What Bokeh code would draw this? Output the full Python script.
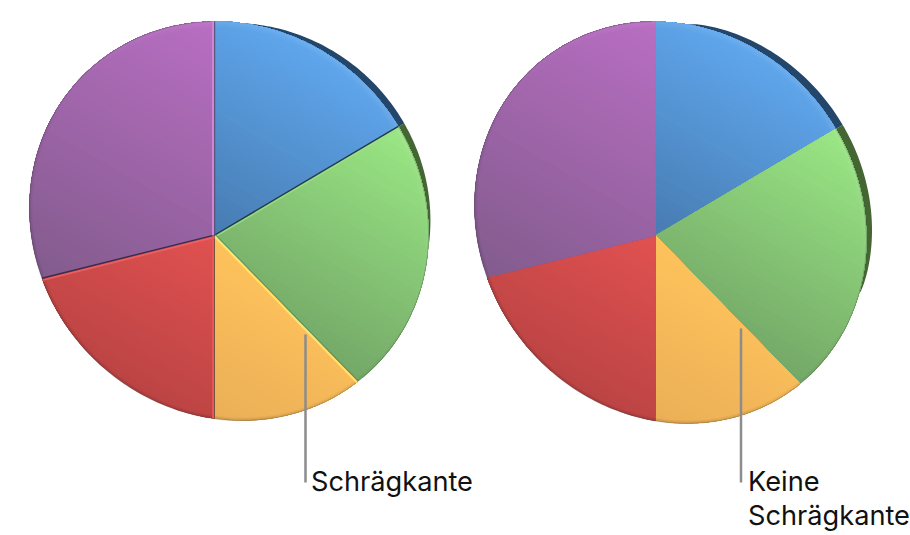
import math
from bokeh.plotting import figure
from bokeh.models import Range1d
from bokeh.core.properties import value
from bokeh.embed import file_html
from bokeh.resources import INLINE

# chart data (percent of pie), clockwise from 12 o'clock
slice_names = ["Blau", "Grün", "Orange", "Rot", "Violett"]
slice_values = [16.5, 21.2, 12.3, 21.1, 28.9]
label_left = ["Schrägkante"]
label_right = ["Keine", "Schrägkante"]

# styles: light / dark end of each slice gradient, and side wall colour
light = ["#5fa6ec", "#9ae684", "#fec25c", "#e15151", "#b86ec2"]
dark = ["#487cb2", "#74a868", "#ebaf57", "#bc4444", "#835c8e"]
wall = ["#24466a", "#446632"]

W, H = 910, 535
p = figure(width=W, height=H, output_backend="svg", toolbar_location=None,
           x_range=Range1d(0, W), y_range=Range1d(H, 0),
           min_border=0, outline_line_color=None, background_fill_color="white",
           border_fill_color="white")
p.axis.visible = False
p.grid.visible = False


def hexrgb(c):
    return tuple(int(c[i:i + 2], 16) for i in (1, 3, 5))


def mix(c0, c1, t):
    a, b = hexrgb(c0), hexrgb(c1)
    return "#%02x%02x%02x" % tuple(round(a[i] + (b[i] - a[i]) * t) for i in range(3))


def ray_hit(g, deg):
    """Point where the ray from the apex at a clockwise angle meets the tilted disc."""
    ph = math.radians(g["tilt"])
    U = (math.cos(ph), math.sin(ph))
    V = (math.sin(ph), -math.cos(ph))
    th = math.radians(deg)
    d = (math.sin(th), -math.cos(th))
    rx, ry = g["apex"][0] - g["c"][0], g["apex"][1] - g["c"][1]
    pu, pv = rx * U[0] + ry * U[1], rx * V[0] + ry * V[1]
    du, dv = d[0] * U[0] + d[1] * U[1], d[0] * V[0] + d[1] * V[1]
    A = (du / g["a"]) ** 2 + (dv / g["b"]) ** 2
    B = 2 * (pu * du / g["a"] ** 2 + pv * dv / g["b"] ** 2)
    C = (pu / g["a"]) ** 2 + (pv / g["b"]) ** 2 - 1
    s = (-B + math.sqrt(B * B - 4 * A * C)) / (2 * A)
    return g["apex"][0] + d[0] * s, g["apex"][1] + d[1] * s


def clip(poly, L, t):
    out = []
    for i in range(len(poly)):
        q0, q1 = poly[i], poly[(i + 1) % len(poly)]
        s0 = q0[0] * L[0] + q0[1] * L[1] - t
        s1 = q1[0] * L[0] + q1[1] * L[1] - t
        if s0 >= 0:
            out.append(q0)
        if s0 * s1 < 0:
            k = s0 / (s0 - s1)
            out.append((q0[0] + (q1[0] - q0[0]) * k, q0[1] + (q1[1] - q0[1]) * k))
    return out


def draw_pie(g):
    cum = [0.0]
    for v in slice_values:
        cum.append(cum[-1] + v * 3.6)
    apex = g["apex"]
    cx, cy = g["c"]

    # side wall crescent
    w0, w1 = g["wall_range"]
    for idx, (s0, s1) in enumerate([(w0, cum[1]), (cum[1], w1)]):
        inner, outer = [], []
        n = 50
        for i in range(n + 1):
            deg = s0 + (s1 - s0) * i / n
            q = ray_hit(g, deg)
            f = (deg - w0) / (w1 - w0)
            w = g["wall_w"] * math.sin(math.pi * f) ** g["wall_exp"]
            rr = math.hypot(q[0] - cx, q[1] - cy)
            inner.append((q[0] - (q[0] - cx) / rr, q[1] - (q[1] - cy) / rr))
            outer.append((q[0] + (q[0] - cx) / rr * w, q[1] + (q[1] - cy) / rr * w))
        poly = inner + outer[::-1]
        p.patch([a for a, _ in poly], [b for _, b in poly], fill_color=wall[idx], line_color=None)

    # gradient bodies
    L = (0.5, -0.87)
    for i in range(len(slice_values)):
        arc = [ray_hit(g, cum[i] + (cum[i + 1] - cum[i]) * k / 60) for k in range(61)]
        poly = [apex] + arc
        pr = [a * L[0] + b * L[1] for a, b in poly]
        lo, hi = min(pr), max(pr)
        N = 40
        xs, ys, cols = [], [], []
        for k in range(N):
            part = poly if k == 0 else clip(poly, L, lo + (hi - lo) * k / N)
            if len(part) < 3:
                continue
            xs.append([a for a, _ in part])
            ys.append([b for _, b in part])
            cols.append(mix(dark[i], light[i], k / (N - 1)))
        p.patches(xs, ys, fill_color=cols, line_color=None)

    # bevelled outer rim, as thin arc pieces
    xs, ys, cols, alphas = [], [], [], []
    light_dir = (0.55, -0.83)
    for i in range(len(slice_values)):
        steps = max(6, int((cum[i + 1] - cum[i]) / 3))
        for k in range(steps):
            a0 = cum[i] + (cum[i + 1] - cum[i]) * k / steps
            a1 = cum[i] + (cum[i + 1] - cum[i]) * (k + 1) / steps
            q0, q1 = ray_hit(g, a0), ray_hit(g, a1)
            mx, my = (q0[0] + q1[0]) / 2 - cx, (q0[1] + q1[1]) / 2 - cy
            r = math.hypot(mx, my)
            f = (mx * light_dir[0] + my * light_dir[1]) / r
            depth = 7 if f > 0 else 3
            for d in range(depth):
                s = 1 - (d + 0.5) / r
                xs.append([cx + (q0[0] - cx) * s, cx + (q1[0] - cx) * s])
                ys.append([cy + (q0[1] - cy) * s, cy + (q1[1] - cy) * s])
                if f > 0:
                    cols.append("#ffffff")
                    alphas.append(0.09 * f * (1 - d / depth))
                else:
                    cols.append("#000000")
                    alphas.append(0.10 * (-f + 0.25) * (1 - d / depth))
    p.multi_line(xs, ys, line_color=cols, line_alpha=alphas, line_width=1.2)

    # thin soft outer edge on the lower left half
    arc = [ray_hit(g, d) for d in range(int(cum[1]), 361, 3)]
    p.line([a for a, _ in arc], [b for _, b in arc], line_color="#3a3a3a", line_alpha=0.28, line_width=1)

    # bevelled radial edges (left pie only); positive offset = clockwise side
    if g["bevel"]:
        edges = [
            (cum[1], [(1.4, "#9fe088", 1.4, 0.8), (-0.3, "#22384e", 1.4, 1)]),
            (cum[2], [(-1.4, "#5b7f4c", 1, 0.7), (0.6, "#ffe36c", 2, 1)]),
            (cum[3], [(1.4, "#ee5757", 1.8, 1), (0, "#77523f", 1, 1)]),
            (cum[4], [(-1.6, "#f06060", 1.8, 0.9), (0.4, "#3a2c4c", 1.4, 1)]),
            (cum[5], [(-1.5, "#cf86d6", 2, 1), (0.2, "#3f5068", 1, 0.9)]),
        ]
        for deg, strokes in edges:
            th = math.radians(deg)
            e = ray_hit(g, deg)
            nx, ny = math.cos(th), math.sin(th)
            for off, col, lw, al in strokes:
                p.line([apex[0] + nx * off, e[0] + nx * off], [apex[1] + ny * off, e[1] + ny * off],
                       line_color=col, line_width=lw, line_alpha=al)


left = dict(apex=(214, 235), c=(228.5, 220.5), a=206, b=193, tilt=45, bevel=True,
            wall_range=(8, 94), wall_w=7, wall_exp=0.9)
right = dict(apex=(655, 235), c=(670, 222), a=207, b=189.7, tilt=53.4, bevel=False,
             wall_range=(9, 106), wall_w=8, wall_exp=0.55)
draw_pie(left)
draw_pie(right)

# leaders and labels
p.line([305, 305], [334, 482], line_color="#8c8c8c", line_width=2.5)
p.line([740.5, 740.5], [328, 482], line_color="#8c8c8c", line_width=2.5)
font = value("Inter")
p.text([310.5], [481], text=label_left, text_font=font, text_font_size="27.2px",
       text_color="#111111", text_baseline="middle")
p.text([747.5, 747.5], [481, 515], text=label_right, text_font=font, text_font_size="27.2px",
       text_color="#111111", text_baseline="middle")

open("out.html", "w").write(file_html(p, INLINE))
